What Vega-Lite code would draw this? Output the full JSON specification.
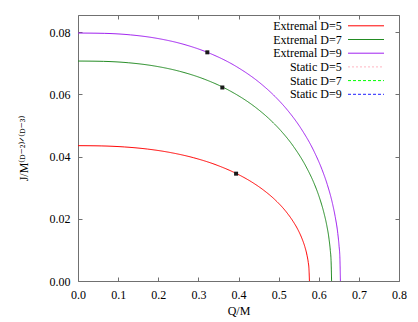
{
  "$schema": "https://vega.github.io/schema/vega-lite/v6.json",
  "width": 321,
  "height": 266,
  "autosize": "none",
  "padding": {"left": 78, "top": 15, "right": 19, "bottom": 41},
  "background": "white",
  "config": {
    "view": {"stroke": "#707070", "strokeWidth": 1},
    "font": "Liberation Serif, Times New Roman, DejaVu Serif, serif",
    "axis": {
      "labelFont": "Liberation Serif, Times New Roman, DejaVu Serif, serif", "labelFontSize": 12, "labelColor": "black",
      "titleFont": "Liberation Serif, Times New Roman, DejaVu Serif, serif", "titleFontSize": 12, "titleFontWeight": "normal", "titleColor": "black",
      "grid": false, "domain": false, "tickSize": -4, "tickColor": "#707070", "tickWidth": 1,
      "labelFlush": false, "labelOverlap": false, "labelPadding": 12
    },
    "legend": {
      "labelFont": "Liberation Serif, Times New Roman, DejaVu Serif, serif", "labelFontSize": 12, "labelColor": "black"
    }
  },
  "datasets": {
    "curves": [
      {"series": "Extremal D=5", "Q": 0, "J": 0.0435},
      {"series": "Extremal D=5", "Q": 0.0577, "J": 0.04342},
      {"series": "Extremal D=5", "Q": 0.1154, "J": 0.04309},
      {"series": "Extremal D=5", "Q": 0.1730, "J": 0.04241},
      {"series": "Extremal D=5", "Q": 0.2307, "J": 0.04128},
      {"series": "Extremal D=5", "Q": 0.2884, "J": 0.03961},
      {"series": "Extremal D=5", "Q": 0.3461, "J": 0.03724},
      {"series": "Extremal D=5", "Q": 0.4038, "J": 0.03395},
      {"series": "Extremal D=5", "Q": 0.4326, "J": 0.03185},
      {"series": "Extremal D=5", "Q": 0.4614, "J": 0.02931},
      {"series": "Extremal D=5", "Q": 0.4903, "J": 0.02620},
      {"series": "Extremal D=5", "Q": 0.5191, "J": 0.02220},
      {"series": "Extremal D=5", "Q": 0.5364, "J": 0.01909},
      {"series": "Extremal D=5", "Q": 0.5480, "J": 0.01652},
      {"series": "Extremal D=5", "Q": 0.5595, "J": 0.01321},
      {"series": "Extremal D=5", "Q": 0.5653, "J": 0.01104},
      {"series": "Extremal D=5", "Q": 0.5710, "J": 0.00811},
      {"series": "Extremal D=5", "Q": 0.5739, "J": 0.00595},
      {"series": "Extremal D=5", "Q": 0.5756, "J": 0.00394},
      {"series": "Extremal D=5", "Q": 0.5768, "J": 0},
      {"series": "Extremal D=7", "Q": 0, "J": 0.0707},
      {"series": "Extremal D=7", "Q": 0.0632, "J": 0.07060},
      {"series": "Extremal D=7", "Q": 0.1264, "J": 0.07014},
      {"series": "Extremal D=7", "Q": 0.1896, "J": 0.06913},
      {"series": "Extremal D=7", "Q": 0.2528, "J": 0.06742},
      {"series": "Extremal D=7", "Q": 0.3160, "J": 0.06482},
      {"series": "Extremal D=7", "Q": 0.3792, "J": 0.06108},
      {"series": "Extremal D=7", "Q": 0.4424, "J": 0.05582},
      {"series": "Extremal D=7", "Q": 0.4740, "J": 0.05241},
      {"series": "Extremal D=7", "Q": 0.5056, "J": 0.04830},
      {"series": "Extremal D=7", "Q": 0.5372, "J": 0.04322},
      {"series": "Extremal D=7", "Q": 0.5688, "J": 0.03666},
      {"series": "Extremal D=7", "Q": 0.5878, "J": 0.03156},
      {"series": "Extremal D=7", "Q": 0.6004, "J": 0.02731},
      {"series": "Extremal D=7", "Q": 0.6130, "J": 0.02185},
      {"series": "Extremal D=7", "Q": 0.6194, "J": 0.01827},
      {"series": "Extremal D=7", "Q": 0.6257, "J": 0.01342},
      {"series": "Extremal D=7", "Q": 0.6288, "J": 0.00984},
      {"series": "Extremal D=7", "Q": 0.6307, "J": 0.00652},
      {"series": "Extremal D=7", "Q": 0.6320, "J": 0},
      {"series": "Extremal D=9", "Q": 0, "J": 0.0797},
      {"series": "Extremal D=9", "Q": 0.0654, "J": 0.07960},
      {"series": "Extremal D=9", "Q": 0.1308, "J": 0.07911},
      {"series": "Extremal D=9", "Q": 0.1962, "J": 0.07801},
      {"series": "Extremal D=9", "Q": 0.2616, "J": 0.07614},
      {"series": "Extremal D=9", "Q": 0.3270, "J": 0.07326},
      {"series": "Extremal D=9", "Q": 0.3924, "J": 0.06910},
      {"series": "Extremal D=9", "Q": 0.4578, "J": 0.06320},
      {"series": "Extremal D=9", "Q": 0.4905, "J": 0.05937},
      {"series": "Extremal D=9", "Q": 0.5232, "J": 0.05474},
      {"series": "Extremal D=9", "Q": 0.5559, "J": 0.04900},
      {"series": "Extremal D=9", "Q": 0.5886, "J": 0.04158},
      {"series": "Extremal D=9", "Q": 0.6082, "J": 0.03580},
      {"series": "Extremal D=9", "Q": 0.6213, "J": 0.03099},
      {"series": "Extremal D=9", "Q": 0.6344, "J": 0.02480},
      {"series": "Extremal D=9", "Q": 0.6409, "J": 0.02074},
      {"series": "Extremal D=9", "Q": 0.6475, "J": 0.01524},
      {"series": "Extremal D=9", "Q": 0.6507, "J": 0.01117},
      {"series": "Extremal D=9", "Q": 0.6527, "J": 0.00741},
      {"series": "Extremal D=9", "Q": 0.6540, "J": 0}
    ],
    "markers": [
      {"series": "Extremal D=5", "Q": 0.394, "J": 0.0345},
      {"series": "Extremal D=7", "Q": 0.3597, "J": 0.0622},
      {"series": "Extremal D=9", "Q": 0.3223, "J": 0.0735}
    ]
  },
  "resolve": {"axis": {"x": "independent", "y": "independent"}},
  "layer": [
    {
      "data": {"name": "curves"},
      "mark": {"type": "line", "strokeWidth": 1, "interpolate": "monotone"},
      "encoding": {
        "x": {"field": "Q", "type": "quantitative",
              "scale": {"domain": [0, 0.8], "nice": false, "zero": false},
              "axis": {"orient": "bottom", "values": [0, 0.1, 0.2, 0.3, 0.4, 0.5, 0.6, 0.7, 0.8], "format": ".1f", "title": "Q/M", "titlePadding": 5}},
        "y": {"field": "J", "type": "quantitative",
              "scale": {"domain": [0, 0.0855], "nice": false, "zero": false},
              "axis": {"orient": "left", "values": [0, 0.02, 0.04, 0.06, 0.08], "format": ".2f", "title": "J/M⁽ᴰ⁻²⁾ᐟ⁽ᴰ⁻³⁾", "titlePadding": 19}},
        "color": {"field": "series", "type": "nominal",
                  "scale": {"domain": ["Extremal D=5", "Extremal D=7", "Extremal D=9", "Static D=5", "Static D=7", "Static D=9"],
                            "range": ["#ff0000", "#228b22", "#a020f0", "#ffb6c1", "#00ff00", "#2020ff"]},
                  "legend": {"title": null, "orient": "none", "legendX": 181.5, "legendY": 4.3,
                             "symbolType": "M-3,0H3", "symbolSize": 144, "symbolStrokeWidth": 1,
                             "labelAlign": "right", "labelOffset": -30.8, "symbolOffset": 100,
                             "rowPadding": 0.7, "padding": 0, "labelBaseline": "middle"}},
        "strokeDash": {"field": "series", "type": "nominal",
                  "scale": {"domain": ["Extremal D=5", "Extremal D=7", "Extremal D=9", "Static D=5", "Static D=7", "Static D=9"],
                            "range": [[1, 0], [1, 0], [1, 0], [2, 2], [3, 2], [3, 2]]},
                  "legend": {"title": null, "orient": "none", "legendX": 181.5, "legendY": 4.3,
                             "symbolType": "M-3,0H3", "symbolSize": 144, "symbolStrokeWidth": 1,
                             "labelAlign": "right", "labelOffset": -30.8, "symbolOffset": 100,
                             "rowPadding": 0.7, "padding": 0, "labelBaseline": "middle"}}
      }
    },
    {
      "data": {"name": "markers"},
      "mark": {"type": "point", "shape": "square", "filled": true, "size": 16, "color": "#1a1a1a", "opacity": 1},
      "encoding": {
        "x": {"field": "Q", "type": "quantitative",
              "axis": {"orient": "top", "values": [0, 0.1, 0.2, 0.3, 0.4, 0.5, 0.6, 0.7, 0.8], "labels": false, "title": null}},
        "y": {"field": "J", "type": "quantitative",
              "axis": {"orient": "right", "values": [0, 0.02, 0.04, 0.06, 0.08], "labels": false, "title": null}}
      }
    }
  ]
}
